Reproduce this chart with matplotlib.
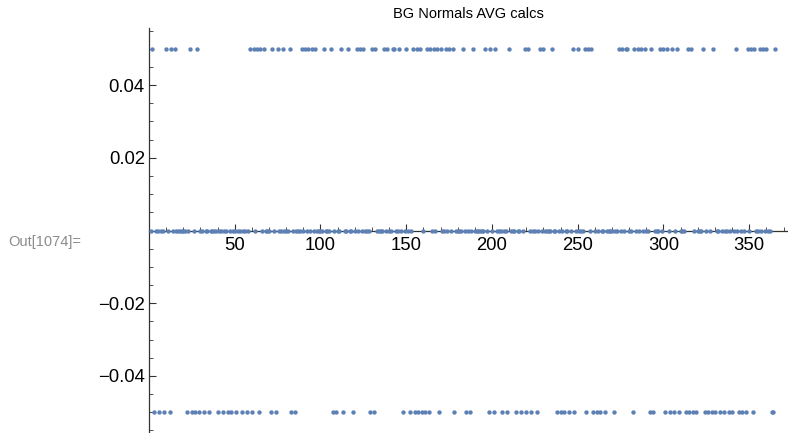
import numpy as np
import matplotlib
matplotlib.use("Agg")
import matplotlib.pyplot as plt
from matplotlib.ticker import MultipleLocator, FixedLocator

plt.rcParams['font.family'] = ['Liberation Sans', 'DejaVu Sans']

# days of the year whose value sits at +0.05 / -0.05, every other day is 0
high_days = [2, 10, 13, 15, 24, 28, 59, 61, 63, 65, 67, 72, 75, 78, 82, 89, 91, 93,
             95, 97, 102, 106, 112, 116, 121, 123, 125, 130, 132, 137, 139, 142, 143,
             146, 150, 154, 156, 158, 162, 164, 166, 168, 170, 173, 175, 177, 183, 189,
             196, 199, 202, 210, 219, 221, 228, 230, 235, 247, 250, 254, 256, 258, 274,
             276, 278, 279, 283, 285, 287, 289, 293, 298, 300, 302, 305, 308, 314, 316,
             323, 329, 342, 349, 351, 353, 356, 358, 360, 365]
low_days = [3, 6, 9, 12, 22, 25, 27, 29, 32, 35, 40, 43, 46, 48, 51, 54, 57, 60, 64,
            71, 74, 83, 85, 107, 109, 113, 119, 129, 131, 148, 152, 155, 157, 159, 161,
            163, 169, 178, 185, 187, 198, 201, 206, 209, 214, 217, 220, 223, 226, 238,
            240, 242, 245, 248, 255, 259, 261, 263, 266, 271, 282, 292, 294, 301, 304,
            306, 309, 313, 315, 317, 319, 324, 326, 328, 330, 333, 335, 338, 340, 344,
            346, 348, 352, 363, 364]
n_days = 365
high_val = 0.05
low_val = -0.05

days = np.arange(1, n_days + 1)
values = np.zeros(n_days)
values[np.array(high_days) - 1] = high_val
values[np.array(low_days) - 1] = low_val

fig = plt.figure(figsize=(7.88, 4.33), dpi=100)
ax = fig.add_axes([149 / 788, 0.0, 1 - 149 / 788, 1 - 28 / 433])

ax.scatter(days, values, s=10, color='#5E81B5', linewidths=0, zorder=3)

ax.set_xlim(0, 372.6)
ax.set_ylim(-0.0557, 0.0557)

# mathematica style axes crossing at the origin
for side in ['top', 'right']:
    ax.spines[side].set_visible(False)
ax.spines['left'].set_position(('data', 0))
ax.spines['bottom'].set_position(('data', 0))
for side in ['left', 'bottom']:
    ax.spines[side].set_color('#333333')
    ax.spines[side].set_linewidth(0.9)

ax.xaxis.set_major_locator(FixedLocator([50, 100, 150, 200, 250, 300, 350]))
ax.xaxis.set_minor_locator(MultipleLocator(10))
ax.yaxis.set_major_locator(FixedLocator([-0.04, -0.02, 0.02, 0.04]))
ax.yaxis.set_minor_locator(MultipleLocator(0.005))
ax.set_yticklabels(['\u22120.04', '\u22120.02', '0.02', '0.04'])

ax.tick_params(axis='x', which='major', direction='in', length=5, width=0.8,
               colors='#333333', labelcolor='black', labelsize=13.3, pad=5)
ax.tick_params(axis='x', which='minor', direction='in', length=3, width=0.6, colors='#333333')
ax.tick_params(axis='y', which='major', direction='in', length=5, width=0.8,
               colors='#333333', labelcolor='black', labelsize=13.3, pad=3)
ax.tick_params(axis='y', which='minor', direction='in', length=3, width=0.6, colors='#333333')

fig.text((149 + 788) / 2 / 788, 1 - 14 / 433, 'BG Normals AVG calcs',
         ha='center', va='center', fontsize=10.5)
fig.text(8 / 788, 1 - 242 / 433, 'Out[1074]=', ha='left', va='center',
         fontsize=10.5, color='#8c8c8c')

fig.savefig('out.png', dpi=100)
